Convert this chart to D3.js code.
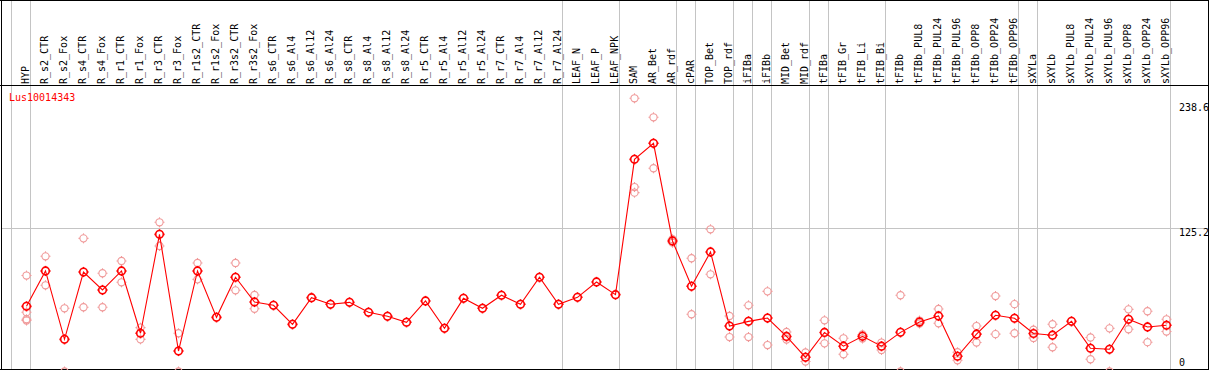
<!DOCTYPE html>
<html>
<head>
<meta charset="utf-8">
<script src="https://cdn.jsdelivr.net/npm/d3@7"></script>
<style>
  body { margin: 0; background: #fff; }
  text { font-family: "DejaVu Sans Mono", monospace; font-size: 10px; }
</style>
</head>
<body>
<div class="canvas"></div>
<script>
const dims = { width: 1209, height: 370, headerY: 85.5, bottom: 369.5, step: 19, firstX: 26 };

const geneName = 'Lus10014343';

const samples = [
    'HYP',
    'R_s2_CTR', 'R_s2_Fox', 'R_s4_CTR', 'R_s4_Fox', 'R_r1_CTR', 'R_r1_Fox', 'R_r3_CTR', 'R_r3_Fox',
    'R_r1s2_CTR', 'R_r1s2_Fox', 'R_r3s2_CTR', 'R_r3s2_Fox',
    'R_s6_CTR', 'R_s6_Al4', 'R_s6_Al12', 'R_s6_Al24', 'R_s8_CTR', 'R_s8_Al4', 'R_s8_Al12', 'R_s8_Al24',
    'R_r5_CTR', 'R_r5_Al4', 'R_r5_Al12', 'R_r5_Al24', 'R_r7_CTR', 'R_r7_Al4', 'R_r7_Al12', 'R_r7_Al24',
    'LEAF_N', 'LEAF_P', 'LEAF_NPK',
    'SAM', 'AR_Bet', 'AR_rdf', 'cPAR', 'TOP_Bet', 'TOP_rdf', 'iFIBa', 'iFIBb', 'MID_Bet', 'MID_rdf',
    'tFIBa', 'tFIB_Gr', 'tFIB_Li', 'tFIB_Bi',
    'tFIBb', 'tFIBb_PUL8', 'tFIBb_PUL24', 'tFIBb_PUL96', 'tFIBb_OPP8', 'tFIBb_OPP24', 'tFIBb_OPP96',
    'sXYLa', 'sXYLb', 'sXYLb_PUL8', 'sXYLb_PUL24', 'sXYLb_PUL96', 'sXYLb_OPP8', 'sXYLb_OPP24', 'sXYLb_OPP96'
];

// number of samples in each block between the grey separators
const groupSizes = [1, 28, 3, 3, 1, 2, 1, 1, 2, 1, 3, 7, 1, 7];

const means = [
    56.9,
    87.8, 28.1, 86.9, 71.2, 87.8, 33.4, 119.8, 17.9,
    87.8, 47.3, 82.3, 60.7,
    57.8, 41.2, 64.5, 58.7, 60.4, 51.7, 48.2, 43.0,
    61.6, 37.7, 63.9, 55.2, 66.6, 58.7, 82.3, 58.7,
    64.8, 78.2, 67.1,
    185.3, 199.3, 114.0, 74.4, 104.4, 39.7, 43.8, 46.7, 30.6, 12.4,
    34.1, 22.1, 30.7, 22.1,
    34.2, 43.2, 48.5, 13.3, 32.6, 49.1, 46.5,
    33.2, 31.7, 43.8, 20.3, 19.4, 45.6, 38.9, 40.4
];

// individual replicates that show apart from the mean marker
const replicates = [
    [83.8, 51.7, 45.6, 44.5],
    [100.6, 75.3], [55.2, 0], [116.3, 56.1], [85.8, 56.1], [96.5, 77.9], [38.3, 28.1], [130.3, 109.6], [33.4, 0],
    [94.8, 80.5], [], [94.8, 70.9], [66.8, 54.8],
    [], [], [], [], [], [], [], [],
    [], [], [], [], [], [], [], [],
    [], [], [],
    [238.6, 161.1, 156.2], [222.0, 177.5], [115.5, 112.5], [98.9, 50.0], [124.2, 84.9], [48.5, 30.1],
    [57.8, 30.1], [70.0, 23.1], [34.5, 27.9], [16.6, 8.7],
    [44.7, 24.6], [29.0, 15.0], [32.3, 28.8], [25.3, 18.8],
    [66.6, 0], [44.5, 41.9], [54.6, 42.1], [16.8, 9.8], [39.7, 25.3], [65.9, 32.6], [58.8, 33.4],
    [36.5, 29.3], [41.3, 21.2], [], [29.7, 10.7], [37.7, 0], [54.3, 36.9], [52.6, 25.6], [45.6, 34.9]
];

const yTicks = [238.6, 125.2, 0];

const svg = d3.select('.canvas')
    .append('svg')
    .attr('width', dims.width)
    .attr('height', dims.height);

const x = d3.scaleBand()
    .domain(samples)
    .range([dims.firstX - dims.step / 2, dims.firstX - dims.step / 2 + dims.step * samples.length]);

const cx = name => x(name) + x.bandwidth() / 2;

const y = d3.scaleLinear()
    .domain([0, 238.6])
    .range([371.5, 98.3]);

const grid = svg.append('g').attr('class', 'grid').style('shape-rendering', 'crispEdges');

// separators: one before the first sample and one after each block
let separators = [cx(samples[0]) - dims.step];
let count = 0;
groupSizes.forEach(size => {
    count += size;
    separators.push(cx(samples[count - 1]));
});

grid.selectAll('.sep')
    .data(separators)
    .enter()
    .append('line')
    .attr('class', 'sep')
    .attr('x1', d => d + 4.5)
    .attr('x2', d => d + 4.5)
    .attr('y1', 0)
    .attr('y2', dims.height)
    .attr('stroke', '#c4c4c4');

grid.append('line')
    .attr('x1', 2)
    .attr('x2', dims.width)
    .attr('y1', Math.round(y(125.2)) + 0.5)
    .attr('y2', Math.round(y(125.2)) + 0.5)
    .attr('stroke', '#c4c4c4');

// frame
const frame = svg.append('g').style('shape-rendering', 'crispEdges').attr('stroke', '#000');
frame.append('line').attr('x1', 0).attr('x2', dims.width).attr('y1', 0.5).attr('y2', 0.5);
frame.append('line').attr('x1', 0).attr('x2', dims.width).attr('y1', dims.headerY).attr('y2', dims.headerY);
frame.append('line').attr('x1', 0).attr('x2', dims.width).attr('y1', dims.bottom).attr('y2', dims.bottom);
frame.append('line').attr('x1', 1.5).attr('x2', 1.5).attr('y1', 0).attr('y2', dims.height);
frame.append('line').attr('x1', 1208.5).attr('x2', 1208.5).attr('y1', 0).attr('y2', dims.height);

// column labels
svg.append('g')
    .selectAll('text')
    .data(samples)
    .enter()
    .append('text')
    .attr('transform', d => `translate(${cx(d) + 3.2}, 84) rotate(-90)`)
    .attr('fill', '#000')
    .text(d => d);

svg.append('text')
    .attr('x', 9)
    .attr('y', 101)
    .attr('fill', '#f00')
    .text(geneName);

svg.append('g')
    .selectAll('text')
    .data(yTicks)
    .enter()
    .append('text')
    .attr('x', 1179)
    .attr('y', d => Math.max(111, Math.min(366, y(d) + 8)))
    .attr('fill', '#000')
    .text(d => d);

const marker = (g, r, tick) => {
    g.append('circle').attr('r', r).attr('fill', 'none');
    [[0, -1], [0, 1], [-1, 0], [1, 0]].forEach(([dx, dy]) => {
        g.append('line')
            .attr('x1', dx * r).attr('y1', dy * r)
            .attr('x2', dx * (r + tick)).attr('y2', dy * (r + tick));
    });
};

const plot = svg.append('g');

// replicates
const repPoints = [];
replicates.forEach((reps, i) => reps.forEach(v => repPoints.push({ name: samples[i], value: v })));

plot.selectAll('.rep')
    .data(repPoints)
    .enter()
    .append('g')
    .attr('class', 'rep')
    .attr('transform', d => `translate(${cx(d.name) + 0.5}, ${y(d.value)})`)
    .attr('stroke', '#f09a9a')
    .attr('stroke-width', 1.1)
    .each(function () { marker(d3.select(this), 3.6, 1.4); });

const line = d3.line()
    .x((d, i) => cx(samples[i]) + 0.5)
    .y(d => y(d));

plot.append('path')
    .datum(means)
    .attr('fill', 'none')
    .attr('stroke', '#f00')
    .attr('stroke-width', 1.1)
    .attr('d', line);

plot.selectAll('.mean')
    .data(means)
    .enter()
    .append('g')
    .attr('class', 'mean')
    .attr('transform', (d, i) => `translate(${cx(samples[i]) + 0.5}, ${y(d)})`)
    .attr('stroke', '#f00')
    .attr('stroke-width', 1.6)
    .each(function () { marker(d3.select(this), 3.8, 1.3); });
</script>
</body>
</html>
